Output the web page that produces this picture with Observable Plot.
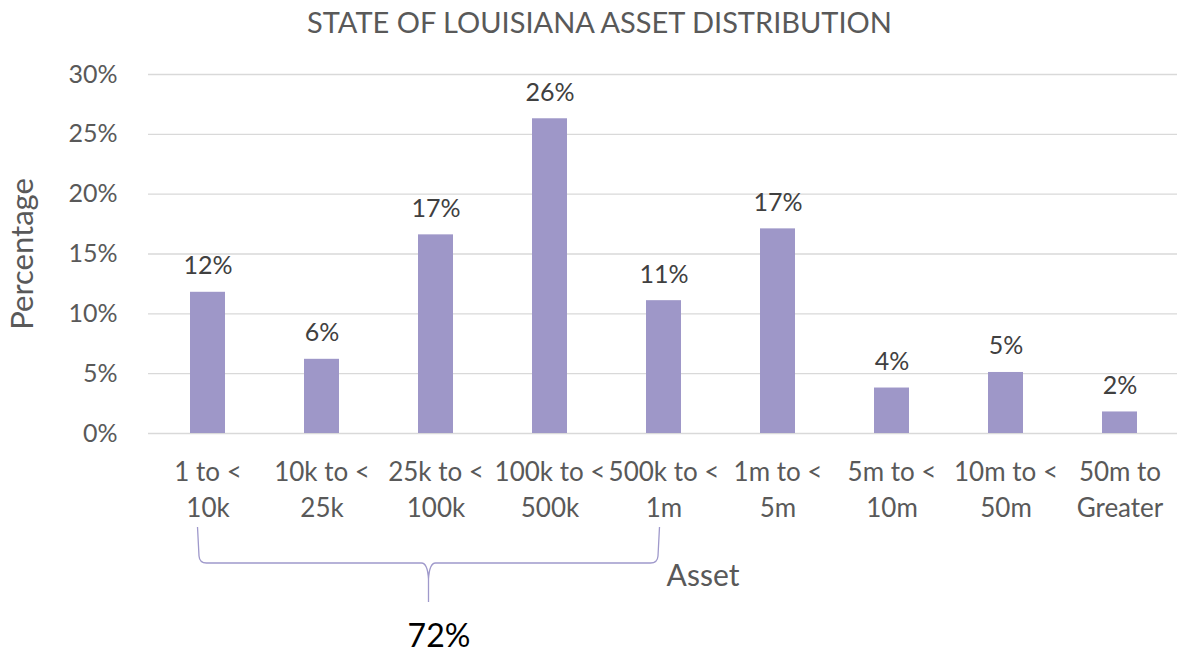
<!DOCTYPE html>
<html>
<head>
<meta charset="utf-8">
<script src="https://cdn.jsdelivr.net/npm/d3@7"></script>
<script src="https://cdn.jsdelivr.net/npm/@observablehq/plot@0.6"></script>
<style>
  html, body { margin: 0; padding: 0; background: #fff; }
  body { width: 1177px; height: 652px; overflow: hidden; font-family: Lato, "Open Sans", sans-serif; }
  #title { height: 60px; box-sizing: border-box; padding-top: 5px; padding-left: 22px; text-align: center;
           font-size: 29px; font-weight: 400; color: #595959; line-height: 34px; }
  #chart svg { display: block; }
</style>
</head>
<body>
<div id="title">STATE OF LOUISIANA ASSET DISTRIBUTION</div>
<div id="chart"></div>
<script>
// Data
const categories = ["1 to < 10k", "10k to < 25k", "25k to < 100k", "100k to < 500k", "500k to < 1m",
                    "1m to < 5m", "5m to < 10m", "10m to < 50m", "50m to Greater"];
const tickLabels = ["1 to <\n10k", "10k to <\n25k", "25k to <\n100k", "100k to <\n500k", "500k to <\n1m",
                    "1m to <\n5m", "5m to <\n10m", "10m to <\n50m", "50m to\nGreater"];
const percentages = [11.8, 6.2, 16.6, 26.3, 11.1, 17.1, 3.8, 5.1, 1.8];
const yTicks = [0, 5, 10, 15, 20, 25, 30];
const groupedCount = 5; // first five categories bracketed
const xTitle = "Asset";
const yTitle = "Percentage";

const rows = categories.map((c, i) => ({category: c, value: percentages[i], label: tickLabels[i]}));
const groupedSum = d3.sum(percentages.slice(0, groupedCount));
const labelOf = new Map(rows.map(d => [d.category, d.label]));

const braceColor = "#9F99CB";

function brace(index, scales) {
  const x = scales.x, y = scales.y;
  const bw = typeof x.bandwidth === "function" ? x.bandwidth() : x.bandwidth;
  const x0 = x(categories[0]) + bw / 2 - 10;
  const x1 = x(categories[groupedCount - 1]) + bw / 2 - 4;
  const xm = (x0 + x1) / 2;
  const base = y(0);
  const yTop = base + 94, yMid = base + 130, yTip = base + 169;
  const r = 7;
  const d = `M${x0},${yTop} L${x0 + 1.5},${yMid - r} Q${x0 + 2},${yMid} ${x0 + r + 2},${yMid} ` +
            `L${xm - r},${yMid} Q${xm - 1},${yMid} ${xm},${yMid + 16} L${xm},${yTip} ` +
            `M${xm},${yMid + 16} Q${xm + 1},${yMid} ${xm + r},${yMid} L${x1 - r - 2},${yMid} ` +
            `Q${x1 - 2},${yMid} ${x1 - 1.5},${yMid - r} L${x1},${yTop}`;
  const path = document.createElementNS("http://www.w3.org/2000/svg", "path");
  path.setAttribute("d", d);
  path.setAttribute("fill", "none");
  path.setAttribute("stroke", braceColor);
  path.setAttribute("stroke-width", "1.3");
  return path;
}

const chart = Plot.plot({
  width: 1177,
  height: 592,
  marginTop: 14,
  marginBottom: 219,
  marginLeft: 148,
  marginRight: 0,
  style: {fontFamily: "Lato, 'Open Sans', sans-serif", color: "#595959", background: "#fff", overflow: "visible"},
  x: {domain: categories, range: [148, 1180], paddingInner: 0.69, paddingOuter: 0.345, label: null},
  y: {domain: [0, 30], label: null},
  marks: [
    Plot.ruleY(yTicks, {stroke: "#D9D9D9", strokeWidth: 1.3}),
    Plot.barY(rows, {x: "category", y: "value", fill: "#9E97C8"}),
    Plot.text(rows, {x: "category", y: "value", text: d => `${Math.round(d.value)}%`, dy: -26,
                     fontSize: 25, fill: "#404040"}),
    Plot.axisY({ticks: yTicks, tickFormat: d => `${d}%`, tickSize: 0, tickPadding: 31, fontSize: 25, label: null}),
    Plot.axisX({tickFormat: c => labelOf.get(c), tickSize: 0, tickPadding: 23, fontSize: 26, lineHeight: 1.35, label: null}),
    Plot.text([yTitle], {frameAnchor: "left", textAnchor: "middle", rotate: -90, dx: -125, fontSize: 31, fill: "#595959"}),
    Plot.text([xTitle], {frameAnchor: "bottom", dx: 40, dy: 152, fontSize: 30, fill: "#595959"}),
    brace,
    Plot.text([groupedSum], {x: () => categories[2], y: () => 0, text: d => `${Math.round(d)}%`,
                             dx: 3, dy: 203, fontSize: 32, fill: "#000"})
  ]
});
document.getElementById("chart").appendChild(chart);
</script>
</body>
</html>
